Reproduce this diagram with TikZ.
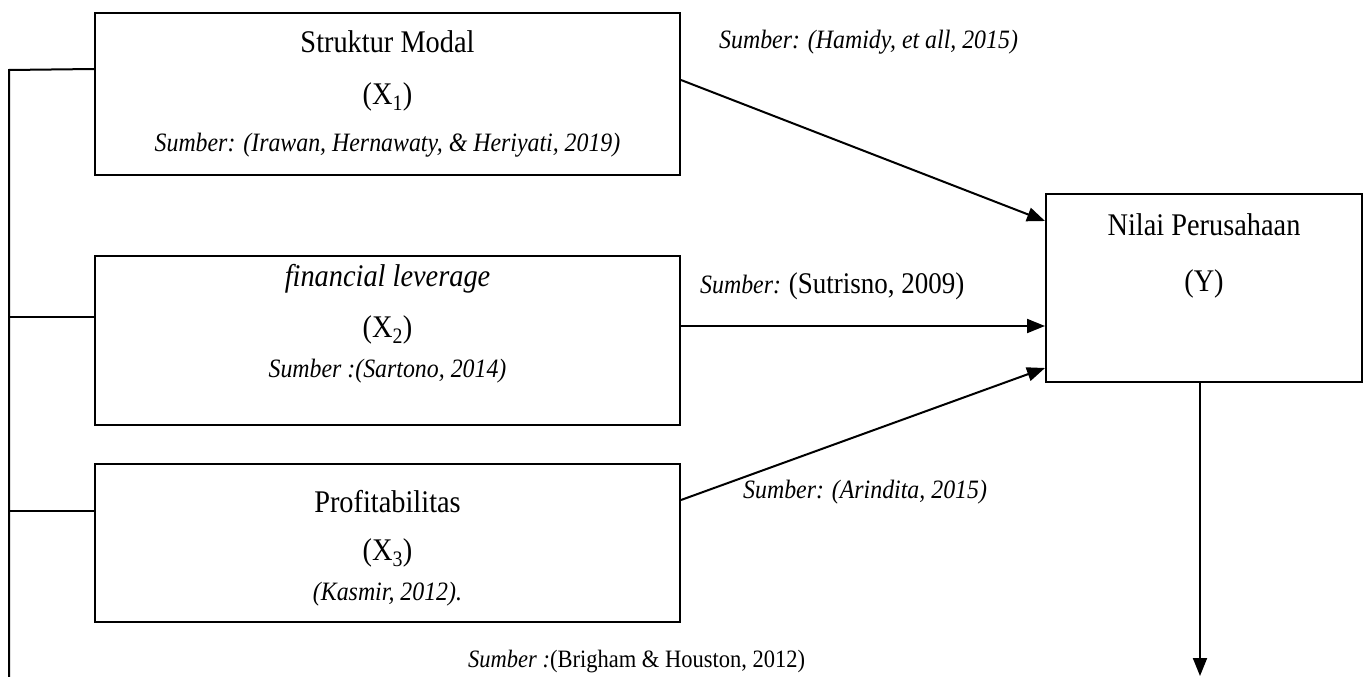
\documentclass[tikz,border=0pt]{standalone}
\usepackage{fontspec}
\setmainfont{Liberation Serif}[FakeStretch=0.9]
\usetikzlibrary{arrows.meta,calc}
\tikzset{
  box/.style={draw,line width=2pt,inner sep=0pt},
  title/.style={font=\fontsize{31.5}{34}\selectfont,inner sep=0pt},
  src/.style={font=\fontsize{26.5}{30}\selectfont\itshape,inner sep=0pt},
  srcmix/.style={font=\fontsize{26.5}{30}\selectfont,inner sep=0pt},
  conn/.style={line width=2pt},
  arr/.style={line width=2pt,-{Triangle[length=18pt,width=14pt]}}
}
\begin{document}
\begin{tikzpicture}[x=1pt,y=-1pt]
\useasboundingbox (0,0) rectangle (1368,677);
% boxes
\node[box,minimum width=585pt,minimum height=162pt] (b1) at (387.5,94) {};
\node[box,minimum width=585pt,minimum height=169pt] (b2) at (387.5,340.5) {};
\node[box,minimum width=585pt,minimum height=158pt] (b3) at (387.5,543) {};
\node[box,minimum width=316pt,minimum height=188pt] (ny) at (1204,288) {};
% texts in boxes
\node[title] (t1a) at (387.5,42) {Struktur Modal};
\node[title] (t1b) at (387.5,97) {(X\textsubscript{1})};
\node[src] (t1c) at (387.5,145) {Sumber: (Irawan, Hernawaty, \& Heriyati, 2019)};
\node[title,font=\fontsize{31.5}{34}\selectfont\itshape] (t2a) at (387.5,279) {financial leverage};
\node[title] (t2b) at (387.5,330) {(X\textsubscript{2})};
\node[src] (t2c) at (387.5,371) {Sumber :(Sartono, 2014)};
\node[title] (t3a) at (387.5,502) {Profitabilitas};
\node[title] (t3b) at (387.5,553) {(X\textsubscript{3})};
\node[src] (t3c) at (387.5,594) {(Kasmir, 2012).};
\node[title] (nya) at (1204,225) {Nilai Perusahaan};
\node[title] (nyb) at (1204,284) {(Y)};
% source labels outside
\node[src,anchor=west] (sh) at (719,42) {Sumber: (Hamidy, et all, 2015)};
\node[srcmix,anchor=west] (ss) at (700,286) {\textit{Sumber:} {\fontsize{30}{32}\selectfont(Sutrisno, 2009)}};
\node[src,anchor=west] (sa) at (743,492) {Sumber: (Arindita, 2015)};
\node[srcmix,anchor=west,font=\fontsize{25}{28}\selectfont] (sb) at (468,662) {\textit{Sumber :}(Brigham \& Houston, 2012)};
% connector points
\coordinate (a1s) at ([yshift=-68pt]b1.north east);
\coordinate (a1e) at ([yshift=-28pt]ny.north west);
\coordinate (a2s) at ([yshift=-71pt]b2.north east);
\coordinate (a2e) at ([yshift=-133pt]ny.north west);
\coordinate (a3s) at ([yshift=-37pt]b3.north east);
\coordinate (a3e) at ([yshift=-175pt]ny.north west);
\coordinate (dns) at ([xshift=-4pt]ny.south);
\coordinate (dne) at (1200,676);
\coordinate (k1) at ([yshift=-57pt]b1.north west);
\coordinate (k2) at ([yshift=-62pt]b2.north west);
\coordinate (k3) at ([yshift=-48pt]b3.north west);
\coordinate (ltop) at (9,70);
\coordinate (lbot) at (9,677);
% connectors
\draw[arr] (a1s) -- (a1e);
\draw[arr] (a2s) -- (a2e);
\draw[arr] (a3s) -- (a3e);
\draw[arr] (dns) -- (dne);
\draw[conn] (lbot) -- (ltop) -- (k1);
\draw[conn] (ltop |- k2) -- (k2);
\draw[conn] (ltop |- k3) -- (k3);
\end{tikzpicture}
\end{document}
